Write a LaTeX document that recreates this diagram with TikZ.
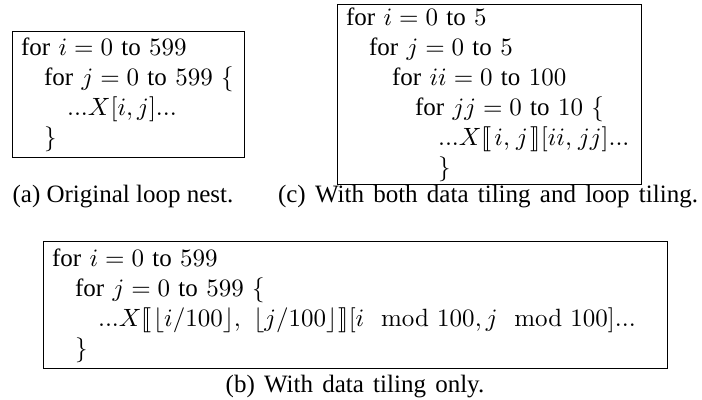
\documentclass[tikz,border=0pt]{standalone}
\usepackage{amsmath}
\usepackage{stmaryrd}
\usepackage[no-math]{fontspec}
\setmainfont{Liberation Serif}

% one indentation step of the pseudo-code
\newcommand{\ind}[1]{\hspace*{#1\dimexpr 9.2pt\relax}}
% slightly looser word spacing for the longer captions
\newcommand{\loosewords}{\spaceskip=3.7pt plus 1pt\relax}
% tile index brackets with a little air inside
\newcommand{\tileopen}{\llbracket\mkern2mu}
\newcommand{\tileclose}{\mkern2mu\rrbracket}

\begin{document}
\begin{tikzpicture}[x=0.4pt,y=-0.4pt,
  codebox/.style={draw, line width=0.5pt, anchor=north west, align=left,
    inner xsep=3.4pt, inner ysep=0pt},
  capt/.style={anchor=base, inner sep=0pt}]
\useasboundingbox (0,0) rectangle (702,400);

% (a) original loop nest
\node[codebox, text width=86pt, minimum height=50.4pt] (loopA) at (12,31)
  {\strut\mbox{for $i=0$ to $599$}\\
   \strut\ind{1}\mbox{for $j=0$ to $599$ $\{$}\\
   \strut\ind{2}\mbox{$...X[i,j]...$}\\
   \strut\ind{1}$\}$};
\node[capt] (captA) at (123,203) {(a) Original loop nest.};

% (c) data tiling and loop tiling
\node[codebox, text width=114.8pt, minimum height=71.6pt] (loopC) at (337,4)
  {\strut\mbox{for $i=0$ to $5$}\\
   \strut\ind{1}\mbox{for $j=0$ to $5$}\\
   \strut\ind{2}\mbox{for $ii=0$ to $100$}\\
   \strut\ind{3}\mbox{for $jj=0$ to $10$ $\{$}\\
   \strut\ind{4}\mbox{$...X\tileopen i,\mkern1.5mu j\tileclose[ii,\mkern1.5mu jj]...$}\\
   \strut\ind{4}$\}$};
\node[capt] (captC) at (488,203) {\loosewords(c) With both data tiling and loop tiling.};

% (b) data tiling only
\node[codebox, text width=242.8pt, minimum height=50.8pt] (loopB) at (43,241)
  {\strut\mbox{for $i=0$ to $599$}\\
   \strut\ind{1}\mbox{for $j=0$ to $599$ $\{$}\\
   \strut\ind{2}\mbox{$\displaystyle ...X\llbracket\mkern1mu\lfloor i/100\rfloor,\mkern6mu\lfloor j/100\rfloor\mkern1mu\rrbracket[i\mod{100},j\mod{100}]...$}\\
   \strut\ind{1}$\}$};
\node[capt] (captB) at (355,393) {\loosewords(b) With data tiling only.};
\end{tikzpicture}
\end{document}
